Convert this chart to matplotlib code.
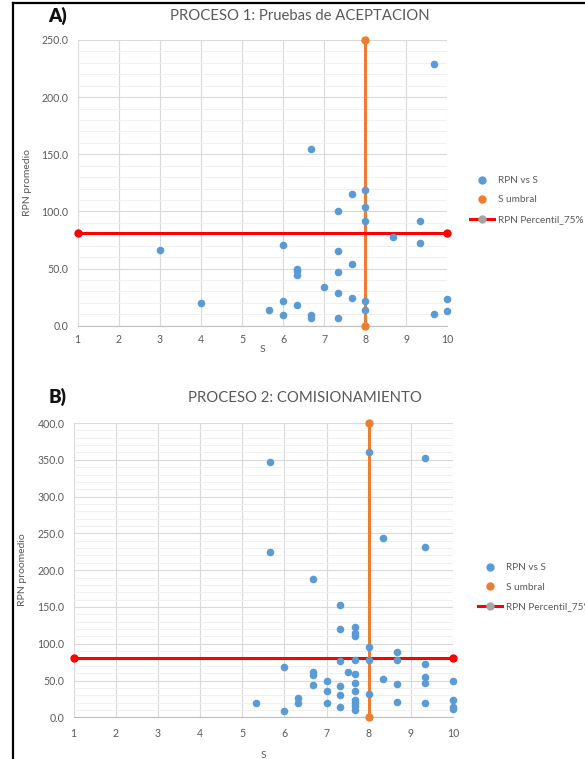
import matplotlib.pyplot as plt
from matplotlib.lines import Line2D
from matplotlib.ticker import MultipleLocator, FormatStrFormatter

plt.rcParams['font.family'] = ['Lato', 'DejaVu Sans']

# Proceso 1: Pruebas de ACEPTACION (S, RPN promedio)
s1 = [3, 4, 5.67, 6, 6, 6, 6.33, 6.33, 6.33, 6.33, 6.67, 6.67, 6.67, 7,
      7.33, 7.33, 7.33, 7.33, 7.33, 7.67, 7.67, 7.67, 8, 8, 8, 8, 8,
      8.67, 9.33, 9.33, 9.67, 9.67, 10, 10]
rpn1 = [66, 20, 14, 71, 22, 9, 50, 48, 44, 18, 155, 9, 7, 34,
        100, 65, 47, 29, 7, 115, 54, 24, 119, 104, 92, 22, 14,
        78, 92, 72, 229, 10, 23, 13]

# Proceso 2: COMISIONAMIENTO
s2 = [5.33, 5.67, 5.67, 6, 6, 6.33, 6.33, 6.67, 6.67, 6.67, 6.67,
      7, 7, 7, 7.33, 7.33, 7.33, 7.33, 7.33, 7.33, 7.5,
      7.67, 7.67, 7.67, 7.67, 7.67, 7.67, 7.67, 7.67, 7.67, 7.67, 7.67,
      8, 8, 8, 8, 8.33, 8.33, 8.67, 8.67, 8.67, 8.67,
      9.33, 9.33, 9.33, 9.33, 9.33, 9.33, 10, 10, 10, 10]
rpn2 = [19, 347, 224, 68, 8, 26, 19, 188, 61, 58, 44,
        49, 36, 19, 152, 120, 76, 42, 30, 14, 61,
        123, 114, 110, 78, 59, 46, 36, 23, 19, 15, 10,
        361, 96, 78, 32, 244, 52, 89, 78, 45, 21,
        352, 232, 72, 55, 47, 20, 49, 23, 14, 11]

# umbral de S y percentil 75 del RPN
umbral_x = [8, 8]
umbral1 = [0, 250]
umbral2 = [0, 400]
perc_x = [1, 10]
perc1 = [81, 81]
perc2 = [80, 80]

BLUE = '#5B9BD5'
ORANGE = '#ED7D31'
RED = '#FF0000'
GRAY_TXT = '#595959'

W, H = 585, 759
fig = plt.figure(figsize=(W / 100, H / 100), dpi=100)


def px_axes(x0, x1, y0, y1):
    # x0..x1, y0 (top)..y1 (bottom) in pixels
    return fig.add_axes([x0 / W, 1 - y1 / H, (x1 - x0) / W, (y1 - y0) / H])


def panel(ax, s, rpn, umb, perc, ymax, ylabel, xpad, ypad, slab_y):
    ax.plot(umbral_x, umb, color=ORANGE, lw=2.2, marker='o', ms=5,
            clip_on=False, zorder=3)
    ax.plot(perc_x, perc, color=RED, lw=2.2, marker='o', ms=5,
            clip_on=False, zorder=3)
    ax.scatter(s, rpn, s=30, color=BLUE, linewidths=0, zorder=4, clip_on=False)
    ax.set_xlim(1, 10)
    ax.set_ylim(0, ymax)
    ax.set_xticks(range(1, 11))
    ax.yaxis.set_major_locator(MultipleLocator(50))
    ax.yaxis.set_minor_locator(MultipleLocator(10))
    ax.yaxis.set_major_formatter(FormatStrFormatter('%.1f'))
    ax.grid(which='major', color='#d9d9d9', lw=0.8)
    ax.grid(which='minor', axis='y', color='#eeeeee', lw=0.6)
    ax.set_axisbelow(True)
    for side in ['top', 'right', 'left']:
        ax.spines[side].set_visible(False)
    ax.spines['bottom'].set_color('#bfbfbf')
    ax.tick_params(which='both', length=0, labelsize=7.6, colors=GRAY_TXT)
    ax.tick_params(axis='x', pad=xpad)
    ax.tick_params(axis='y', pad=ypad)
    ax.set_ylabel(ylabel, fontsize=7.5, color=GRAY_TXT)
    ax.yaxis.set_label_coords(-0.124, 0.5)
    ax.set_xlabel('S', fontsize=7.5, color=GRAY_TXT)
    ax.xaxis.set_label_coords(0.5, slab_y)


def legend(ax, x, y, tlen):
    handles = [
        Line2D([], [], ls='none', marker='o', ms=5, color=BLUE),
        Line2D([], [], ls='none', marker='o', ms=5, color=ORANGE),
        Line2D([], [], color=RED, lw=2.2, marker='o', ms=5,
               markerfacecolor='#a5a5a5', markeredgecolor='#a5a5a5'),
    ]
    labels = ['RPN vs S', 'S umbral', 'RPN Percentil_75%']
    ax.legend(handles, labels, loc='upper left',
              bbox_to_anchor=(x / W, 1 - y / H), bbox_transform=fig.transFigure,
              frameon=False, fontsize=7.2, labelcolor=GRAY_TXT,
              handlelength=tlen, handletextpad=0.4, labelspacing=1.05,
              borderpad=0, borderaxespad=0)


ax1 = px_axes(77.7, 447.3, 40, 325.7)
panel(ax1, s1, rpn1, umbral1, perc1, 250, 'RPN promedio', 6, 7, -0.068)
legend(ax1, 470, 176, 2.4)

ax2 = px_axes(73.7, 452.9, 423, 717.3)
panel(ax2, s2, rpn2, umbral2, perc2, 400, 'RPN proomedio', 8, 6.5, -0.115)
legend(ax2, 478, 563, 2.4)

fig.text(300 / W, 1 - 16 / H, 'PROCESO 1: Pruebas de ACEPTACION',
         fontsize=10.7, color=GRAY_TXT, ha='center', va='center')
fig.text(305 / W, 1 - 398 / H, 'PROCESO 2: COMISIONAMIENTO',
         fontsize=10.7, color=GRAY_TXT, ha='center', va='center')
fig.text(58 / W, 1 - 16 / H, 'A)', fontsize=13.5, fontweight='heavy',
         color='#111111', ha='center', va='center')
fig.text(58 / W, 1 - 397 / H, 'B)', fontsize=13.5, fontweight='heavy',
         color='#111111', ha='center', va='center')

# marco exterior
fig.add_artist(Line2D([13 / W, 13 / W], [0, 1 - 3 / H], color='black', lw=1.6,
                      transform=fig.transFigure))
fig.add_artist(Line2D([13 / W, 1], [1 - 3 / H, 1 - 3 / H], color='black', lw=1.6,
                      transform=fig.transFigure))

fig.savefig('out.png', dpi=100)
